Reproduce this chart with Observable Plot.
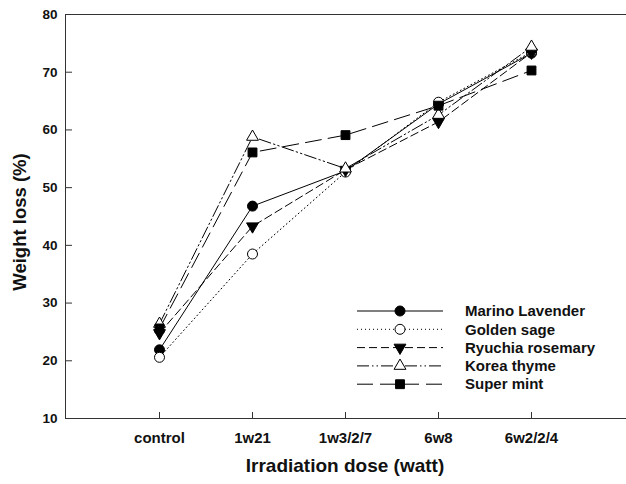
<!DOCTYPE html>
<html>
<head>
<meta charset="utf-8">
<script src="https://cdn.jsdelivr.net/npm/d3@7"></script>
<script src="https://cdn.jsdelivr.net/npm/@observablehq/plot@0.6"></script>
<style>
  html, body { margin: 0; padding: 0; background: white; overflow: hidden; }
  #chart { position: relative; width: 626px; height: 484px; }
</style>
</head>
<body>
<div id="chart"></div>
<script>
const categories = ["control", "1w21", "1w3/2/7", "6w8", "6w2/2/4"];
const seriesNames = ["Marino Lavender", "Golden sage", "Ryuchia rosemary", "Korea thyme", "Super mint"];
const marinoLavender = [21.9, 46.8, 52.9, 64.5, 73.3];
const goldenSage     = [20.6, 38.5, 52.7, 64.8, 73.5];
const ryuchiaRosemary= [24.8, 43.3, 53.1, 61.4, 73.4];
const koreaThyme     = [26.4, 58.8, 53.3, 62.6, 74.4];
const superMint      = [25.6, 56.1, 59.1, 64.2, 70.3];
const yTicks = [10, 20, 30, 40, 50, 60, 70, 80];
const xTitle = "Irradiation dose (watt)";
const yTitle = "Weight loss (%)";

const seriesValues = [marinoLavender, goldenSage, ryuchiaRosemary, koreaThyme, superMint];
const styles = [
  {symbol: "circle", fill: "black", r: 5, rotate: 0, dash: null},
  {symbol: "circle", fill: "white", r: 5, rotate: 0, dash: "1,3"},
  {symbol: "triangle", fill: "black", r: 4.4, rotate: 180, dash: "8,4"},
  {symbol: "triangle", fill: "white", r: 4.4, rotate: 0, dash: "12,3,1.5,3,1.5,3"},
  {symbol: "square", fill: "black", r: 5, rotate: 0, dash: "16,7"}
];

const data = [];
seriesNames.forEach((s, i) => categories.forEach((c, j) => data.push({series: s, dose: c, value: seriesValues[i][j]})));

const font = "'Liberation Sans', Arial, sans-serif";
const marks = [
  Plot.frame({stroke: "#333", strokeWidth: 1, insetRight: -12}),
  Plot.axisY(yTicks, {tickSize: 7, dx: 7, tickFormat: () => "", label: null, stroke: "#333"}),
  Plot.axisY(yTicks, {tickSize: 0, tickPadding: 8, label: null, fontSize: 13.5, fontWeight: "bold", fill: "#111"}),
  Plot.axisX({tickSize: 6, dy: -6, tickFormat: () => "", label: null, stroke: "#333"}),
  Plot.axisX({tickSize: 0, tickPadding: 14, label: null, fontSize: 15, fontWeight: "bold", fill: "#111"}),
  Plot.text([xTitle], {frameAnchor: "bottom", dy: 53, fontSize: 19, fontWeight: "bold", fill: "#111"})
];
seriesNames.forEach((s, i) => {
  const st = styles[i];
  marks.push(Plot.line(data.filter(d => d.series === s), {x: "dose", y: "value", stroke: "black", strokeWidth: 1, strokeDasharray: st.dash}));
});
seriesNames.forEach((s, i) => {
  const st = styles[i];
  marks.push(Plot.dot(data.filter(d => d.series === s), {x: "dose", y: "value", symbol: st.symbol, r: st.r, fill: st.fill, stroke: "black", strokeWidth: 1, rotate: st.rotate}));
});

const plot = Plot.plot({
  width: 626,
  height: 484,
  marginLeft: 65,
  marginTop: 14,
  marginBottom: 66,
  marginRight: 2,
  style: {fontFamily: font, background: "white", overflow: "visible"},
  x: {type: "point", domain: categories, padding: 1, axis: null},
  y: {domain: [10, 80], axis: null},
  marks
});
document.getElementById("chart").appendChild(plot);

const svg = d3.select(plot);
// y-axis title
svg.append("text")
  .attr("transform", "translate(20,222) rotate(-90)")
  .attr("text-anchor", "middle").attr("dy", "0.35em")
  .attr("font-family", font).attr("font-size", 18.5).attr("font-weight", "bold").attr("fill", "#111")
  .text(yTitle);

// legend
const lg = svg.append("g").attr("font-family", font).attr("text-anchor", "start");
const symMap = {circle: d3.symbolCircle, triangle: d3.symbolTriangle, square: d3.symbolSquare};
seriesNames.forEach((s, i) => {
  const st = styles[i];
  const y = 311 + i * 18.3;
  lg.append("line").attr("x1", 357).attr("x2", 443).attr("y1", y).attr("y2", y)
    .attr("stroke", "black").attr("stroke-width", 1).attr("stroke-dasharray", st.dash);
  lg.append("path")
    .attr("d", d3.symbol(symMap[st.symbol], Math.PI * st.r * st.r)())
    .attr("transform", `translate(400,${y}) rotate(${st.rotate})`)
    .attr("fill", st.fill).attr("stroke", "black").attr("stroke-width", 1);
  lg.append("text").attr("x", 465).attr("y", y).attr("dy", "0.35em")
    .attr("font-size", 15).attr("font-weight", "bold").attr("fill", "#111").text(s);
});
</script>
</body>
</html>
